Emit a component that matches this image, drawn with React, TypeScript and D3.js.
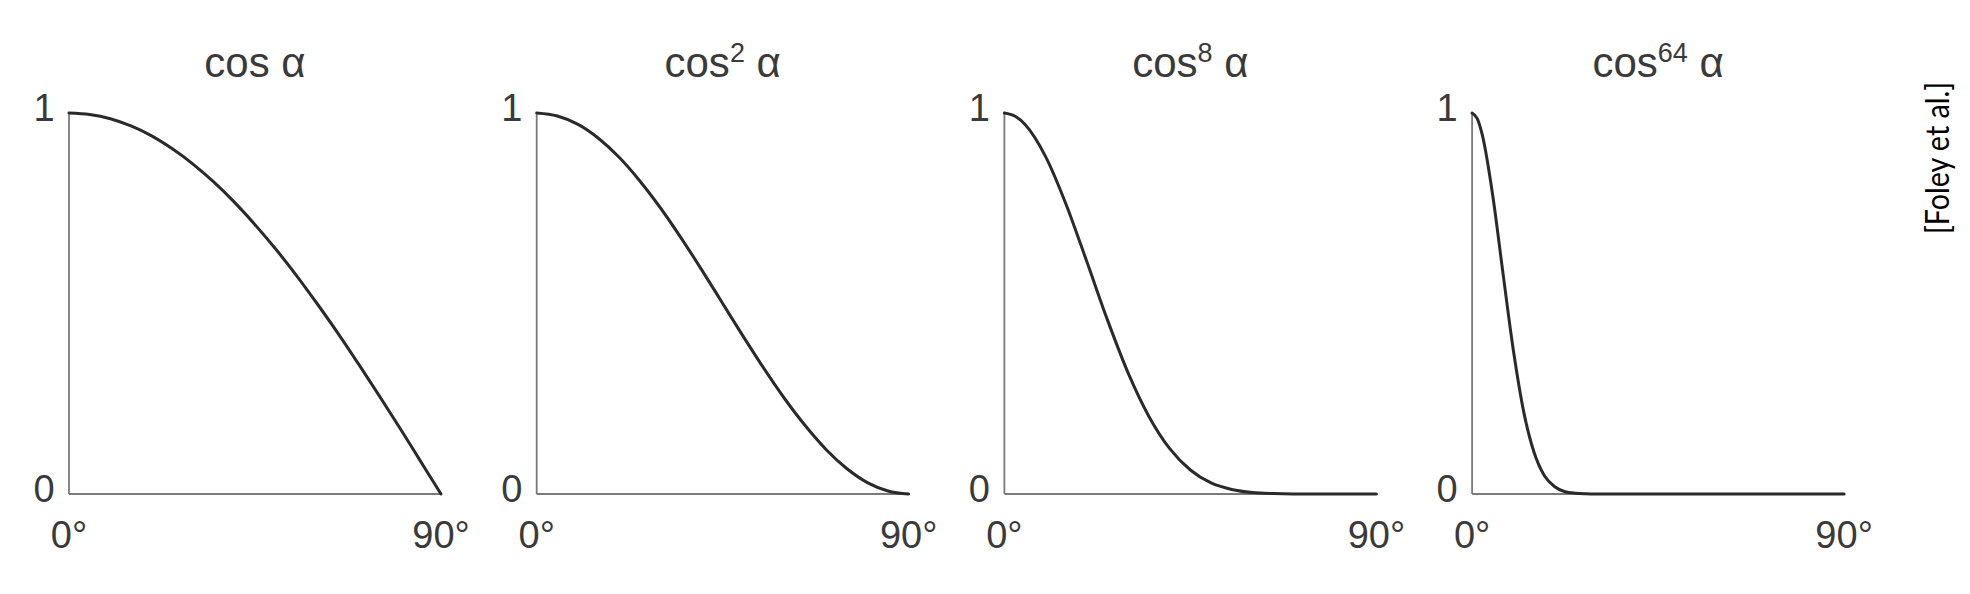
import React from "react";
import * as d3 from "d3";

// ---- data ----
const exponents = ["", "2", "8", "64"];
const xTickLabels = ["0°", "90°"];
const xTickValues = [0, 90];
const yTickLabels = ["0", "1"];
const yTickValues = [0, 1];

const angles = [0, 5, 10, 15, 20, 25, 30, 35, 40, 45, 50, 55, 60, 65, 70, 75, 80, 85, 90];
const cos1 = [1, 0.996, 0.985, 0.966, 0.94, 0.906, 0.866, 0.819, 0.766, 0.707, 0.643, 0.574, 0.5, 0.423, 0.342, 0.259, 0.174, 0.087, 0];
const cos2 = [1, 0.992, 0.97, 0.933, 0.883, 0.821, 0.75, 0.671, 0.587, 0.5, 0.413, 0.329, 0.25, 0.179, 0.117, 0.067, 0.03, 0.008, 0];
const angles8 = [0, 2.5, 5, 10, 15, 20, 25, 30, 35, 40, 45, 50, 55, 60, 65, 70, 75, 80, 85, 90];
const cos8 = [1, 0.992, 0.97, 0.885, 0.758, 0.608, 0.455, 0.316, 0.203, 0.119, 0.063, 0.029, 0.012, 0.004, 0.001, 0, 0, 0, 0, 0];
const angles64 = [0, 1.25, 2.5, 5, 7.5, 10, 12.5, 15, 17.5, 20, 22.5, 25, 27.5, 30, 40, 50, 60, 70, 80, 90];
const cos64 = [1, 0.985, 0.941, 0.783, 0.577, 0.376, 0.215, 0.109, 0.048, 0.019, 0.006, 0.002, 0.0005, 0, 0, 0, 0, 0, 0, 0];

const seriesAngles = [angles, angles, angles8, angles64];
const seriesValues = [cos1, cos2, cos8, cos64];

const credit = "[Foley et al.]";

// ---- layout ----
const W = 1970;
const H = 594;
const firstLeft = 69;
const panelStep = 467.7;
const panelW = 372;
const top = 113;
const bottom = 494;

const axisColor = "#7a7a7a";
const curveColor = "#2a2a2a";
const textColor = "#3a3a3a";
const font = "'Liberation Sans', Arial, Helvetica, sans-serif";

export default function App() {
  const y = d3.scaleLinear().domain([0, 1]).range([bottom, top]);

  return (
    <svg
      width={W}
      height={H}
      viewBox={`0 0 ${W} ${H}`}
      style={{ position: "absolute", left: 0, top: 0, background: "#fff" }}
    >
      <rect x={0} y={0} width={W} height={H} fill="#fff" />
      {exponents.map((exp, i) => {
        const left = firstLeft + i * panelStep;
        const x = d3.scaleLinear().domain([0, 90]).range([left, left + panelW]);
        const pts = seriesAngles[i].map((a, k) => [a, seriesValues[i][k]] as [number, number]);
        const line = d3
          .line<[number, number]>()
          .x((d) => x(d[0]))
          .y((d) => y(d[1]))
          .curve(d3.curveMonotoneX);
        const cx = (x(0) + x(90)) / 2;
        return (
          <g key={i}>
            {/* title */}
            <text
              x={cx}
              y={77}
              textAnchor="middle"
              fontFamily={font}
              fontSize={42}
              fill={textColor}
            >
              cos
              {exp && (
                <tspan fontSize={27} dy={-15}>
                  {exp}
                </tspan>
              )}
              <tspan dy={exp ? 15 : 0}>{"  α"}</tspan>
            </text>
            {/* axes */}
            <line x1={x(0)} x2={x(0)} y1={y(1)} y2={y(0)} stroke={axisColor} strokeWidth={1.8} />
            <line x1={x(0)} x2={x(90)} y1={y(0)} y2={y(0)} stroke={axisColor} strokeWidth={1.8} />
            {/* y labels */}
            {yTickValues.map((v, k) => (
              <text
                key={"y" + k}
                x={x(0) - 25}
                y={y(v) + 8}
                textAnchor="middle"
                fontFamily={font}
                fontSize={38}
                fill={textColor}
              >
                {yTickLabels[k]}
              </text>
            ))}
            {/* x labels */}
            {xTickValues.map((v, k) => (
              <text
                key={"x" + k}
                x={x(v)}
                y={548}
                textAnchor="middle"
                fontFamily={font}
                fontSize={38}
                fill={textColor}
              >
                {xTickLabels[k]}
              </text>
            ))}
            {/* curve */}
            <path
              d={line(pts) || ""}
              fill="none"
              stroke={curveColor}
              strokeWidth={3}
              strokeLinejoin="round"
              strokeLinecap="round"
            />
          </g>
        );
      })}
      <text
        transform={`translate(1949, 158) rotate(-90)`}
        textAnchor="middle"
        fontFamily="Lato, 'Open Sans', sans-serif"
        fontSize={32}
        fill="#000"
        textLength={152}
        lengthAdjust="spacingAndGlyphs"
      >
        {credit}
      </text>
    </svg>
  );
}
